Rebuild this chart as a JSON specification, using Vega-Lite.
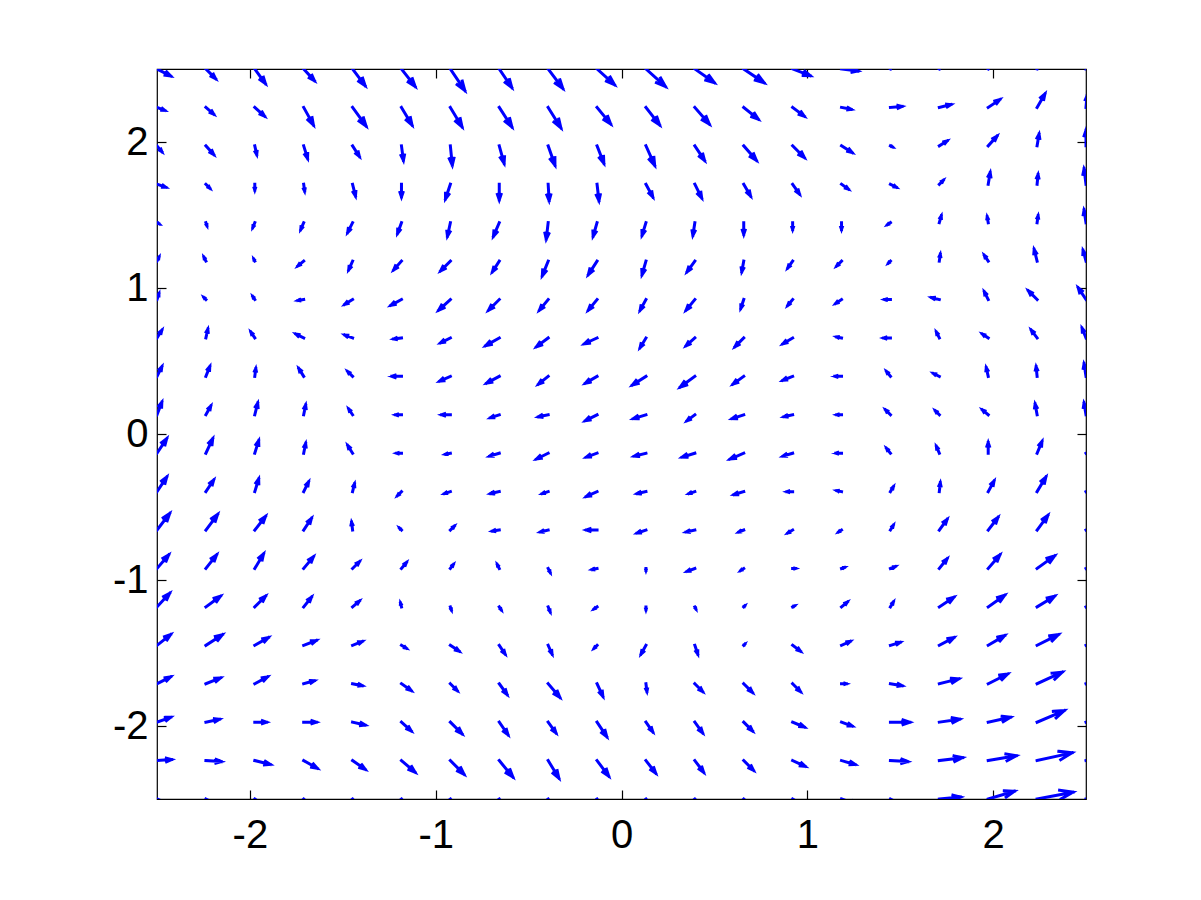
{
"$schema":"https://vega.github.io/schema/vega-lite/v6.json",
"width":929,"height":730,"autosize":"none",
"padding":{"left":157,"top":69,"right":115,"bottom":101},
"background":"white",
"config":{"view":{"stroke":"#000","strokeWidth":1.2},"axis":{"labelFont":"Liberation Sans","labelFontSize":40,"labelColor":"#000","tickColor":"#000","tickSize":-9,"tickWidth":1.2,"domain":false,"grid":false,"title":null}},
"data":{"values":[
{"x":-2.5,"y":2.5,"dir":333,"speed":1.57},{"x":-2.2368,"y":2.5,"dir":315,"speed":1.41},{"x":-1.9737,"y":2.5,"dir":306,"speed":1.86},{"x":-1.7105,"y":2.5,"dir":312.5,"speed":1.63},{"x":-1.4474,"y":2.5,"dir":307,"speed":2.14},{"x":-1.1842,"y":2.5,"dir":308,"speed":2.28},{"x":-0.9211,"y":2.5,"dir":304,"speed":2.66},{"x":-0.6579,"y":2.5,"dir":304,"speed":2.3},{"x":-0.3947,"y":2.5,"dir":307,"speed":2.5},{"x":-0.1316,"y":2.5,"dir":318,"speed":2.41},{"x":0.1316,"y":2.5,"dir":318,"speed":2.69},{"x":0.3947,"y":2.5,"dir":325,"speed":2.44},{"x":0.6579,"y":2.5,"dir":326,"speed":2.52},{"x":0.9211,"y":2.5,"dir":339,"speed":1.93},{"x":1.1842,"y":2.5,"dir":353,"speed":1.71},{"x":1.4474,"y":2.5,"dir":68,"speed":1.08},{"x":1.7105,"y":2.5,"dir":67,"speed":1.3},{"x":1.9737,"y":2.5,"dir":67,"speed":1.52},{"x":2.2368,"y":2.5,"dir":73,"speed":1.68},{"x":2.5,"y":2.5,"dir":90,"speed":1.4},
{"x":-2.5,"y":2.2368,"dir":339,"speed":0.85},{"x":-2.2368,"y":2.2368,"dir":319,"speed":1.06},{"x":-1.9737,"y":2.2368,"dir":318,"speed":1.35},{"x":-1.7105,"y":2.2368,"dir":299,"speed":2.06},{"x":-1.4474,"y":2.2368,"dir":306,"speed":2.36},{"x":-1.1842,"y":2.2368,"dir":301,"speed":2.11},{"x":-0.9211,"y":2.2368,"dir":301,"speed":2.33},{"x":-0.6579,"y":2.2368,"dir":303,"speed":2.39},{"x":-0.3947,"y":2.2368,"dir":302,"speed":2.47},{"x":-0.1316,"y":2.2368,"dir":309.5,"speed":2.2},{"x":0.1316,"y":2.2368,"dir":308,"speed":2.28},{"x":0.3947,"y":2.2368,"dir":311,"speed":2.27},{"x":0.6579,"y":2.2368,"dir":321,"speed":1.92},{"x":0.9211,"y":2.2368,"dir":323,"speed":1.5},{"x":1.1842,"y":2.2368,"dir":349,"speed":1.02},{"x":1.4474,"y":2.2368,"dir":5,"speed":1.2},{"x":1.7105,"y":2.2368,"dir":14,"speed":1.24},{"x":1.9737,"y":2.2368,"dir":34,"speed":1.44},{"x":2.2368,"y":2.2368,"dir":60,"speed":1.61},{"x":2.5,"y":2.2368,"dir":85,"speed":1.2},
{"x":-2.5,"y":1.9737,"dir":310,"speed":0.78},{"x":-2.2368,"y":1.9737,"dir":312,"speed":1.2},{"x":-1.9737,"y":1.9737,"dir":282.5,"speed":0.92},{"x":-1.7105,"y":1.9737,"dir":287,"speed":1.36},{"x":-1.4474,"y":1.9737,"dir":302.5,"speed":1.3},{"x":-1.1842,"y":1.9737,"dir":277.6,"speed":1.51},{"x":-0.9211,"y":1.9737,"dir":275.7,"speed":2.01},{"x":-0.6579,"y":1.9737,"dir":285.5,"speed":1.87},{"x":-0.3947,"y":1.9737,"dir":289.3,"speed":2.12},{"x":-0.1316,"y":1.9737,"dir":291.3,"speed":1.93},{"x":0.1316,"y":1.9737,"dir":294.2,"speed":2.19},{"x":0.3947,"y":1.9737,"dir":303.7,"speed":1.8},{"x":0.6579,"y":1.9737,"dir":311,"speed":1.98},{"x":0.9211,"y":1.9737,"dir":315,"speed":1.7},{"x":1.1842,"y":1.9737,"dir":327.5,"speed":1.3},{"x":1.4474,"y":1.9737,"dir":333.4,"speed":0.22},{"x":1.7105,"y":1.9737,"dir":32,"speed":0.94},{"x":1.9737,"y":1.9737,"dir":48,"speed":1.35},{"x":2.2368,"y":1.9737,"dir":80.5,"speed":1.22},{"x":2.5,"y":1.9737,"dir":90,"speed":1.6},
{"x":-2.5,"y":1.7105,"dir":341.6,"speed":0.95},{"x":-2.2368,"y":1.7105,"dir":315,"speed":0.57},{"x":-1.9737,"y":1.7105,"dir":270,"speed":0.6},{"x":-1.7105,"y":1.7105,"dir":278,"speed":0.71},{"x":-1.4474,"y":1.7105,"dir":284,"speed":1.24},{"x":-1.1842,"y":1.7105,"dir":270,"speed":1.3},{"x":-0.9211,"y":1.7105,"dir":251.6,"speed":1.58},{"x":-0.6579,"y":1.7105,"dir":270,"speed":1.6},{"x":-0.3947,"y":1.7105,"dir":273.4,"speed":1.7},{"x":-0.1316,"y":1.7105,"dir":276.7,"speed":1.71},{"x":0.1316,"y":1.7105,"dir":298.3,"speed":1.48},{"x":0.3947,"y":1.7105,"dir":296.6,"speed":1.57},{"x":0.6579,"y":1.7105,"dir":300.3,"speed":1.39},{"x":0.9211,"y":1.7105,"dir":305,"speed":1.22},{"x":1.1842,"y":1.7105,"dir":324.5,"speed":0.86},{"x":1.4474,"y":1.7105,"dir":333.4,"speed":0.67},{"x":1.7105,"y":1.7105,"dir":45,"speed":0.57},{"x":1.9737,"y":1.7105,"dir":80.5,"speed":1.22},{"x":2.2368,"y":1.7105,"dir":84.3,"speed":1.0},{"x":2.5,"y":1.7105,"dir":97.1,"speed":1.61},
{"x":-2.5,"y":1.4474,"dir":333.4,"speed":0.22},{"x":-2.2368,"y":1.4474,"dir":288.4,"speed":0.32},{"x":-1.9737,"y":1.4474,"dir":248.2,"speed":0.54},{"x":-1.7105,"y":1.4474,"dir":246.8,"speed":0.76},{"x":-1.4474,"y":1.4474,"dir":243.4,"speed":1.12},{"x":-1.1842,"y":1.4474,"dir":250,"speed":1.17},{"x":-0.9211,"y":1.4474,"dir":257.9,"speed":1.43},{"x":-0.6579,"y":1.4474,"dir":246.8,"speed":1.52},{"x":-0.3947,"y":1.4474,"dir":263.3,"speed":1.71},{"x":-0.1316,"y":1.4474,"dir":254,"speed":1.46},{"x":0.1316,"y":1.4474,"dir":252.9,"speed":1.36},{"x":0.3947,"y":1.4474,"dir":261.3,"speed":1.32},{"x":0.6579,"y":1.4474,"dir":270,"speed":1.2},{"x":0.9211,"y":1.4474,"dir":270,"speed":0.7},{"x":1.1842,"y":1.4474,"dir":270,"speed":0.7},{"x":1.4474,"y":1.4474,"dir":213.7,"speed":0.36},{"x":1.7105,"y":1.4474,"dir":74,"speed":0.73},{"x":1.9737,"y":1.4474,"dir":99.5,"speed":0.61},{"x":2.2368,"y":1.4474,"dir":81.9,"speed":0.71},{"x":2.5,"y":1.4474,"dir":98.7,"speed":1.32},
{"x":-2.5,"y":1.1842,"dir":63.4,"speed":0.45},{"x":-2.2368,"y":1.1842,"dir":116.6,"speed":0.45},{"x":-1.9737,"y":1.1842,"dir":116.6,"speed":0.22},{"x":-1.7105,"y":1.1842,"dir":219.8,"speed":0.78},{"x":-1.4474,"y":1.1842,"dir":246,"speed":0.98},{"x":-1.1842,"y":1.1842,"dir":228.4,"speed":1.2},{"x":-0.9211,"y":1.1842,"dir":225,"speed":1.41},{"x":-0.6579,"y":1.1842,"dir":237.5,"speed":1.3},{"x":-0.3947,"y":1.1842,"dir":248.2,"speed":1.62},{"x":-0.1316,"y":1.1842,"dir":237.3,"speed":1.66},{"x":0.1316,"y":1.1842,"dir":254,"speed":1.46},{"x":0.3947,"y":1.1842,"dir":234,"speed":1.36},{"x":0.6579,"y":1.1842,"dir":259.7,"speed":1.12},{"x":0.9211,"y":1.1842,"dir":234.5,"speed":0.86},{"x":1.1842,"y":1.1842,"dir":225,"speed":0.71},{"x":1.4474,"y":1.1842,"dir":225,"speed":0.28},{"x":1.7105,"y":1.1842,"dir":81.9,"speed":0.71},{"x":1.9737,"y":1.1842,"dir":123.7,"speed":0.72},{"x":2.2368,"y":1.1842,"dir":104,"speed":1.24},{"x":2.5,"y":1.1842,"dir":105.3,"speed":1.14},
{"x":-2.5,"y":0.9211,"dir":71.6,"speed":0.63},{"x":-2.2368,"y":0.9211,"dir":135,"speed":0.28},{"x":-1.9737,"y":0.9211,"dir":123.7,"speed":0.36},{"x":-1.7105,"y":0.9211,"dir":189.5,"speed":0.61},{"x":-1.4474,"y":0.9211,"dir":212,"speed":0.94},{"x":-1.1842,"y":0.9211,"dir":208.6,"speed":1.25},{"x":-0.9211,"y":0.9211,"dir":222.5,"speed":1.63},{"x":-0.6579,"y":0.9211,"dir":225,"speed":1.56},{"x":-0.3947,"y":0.9211,"dir":230.7,"speed":1.42},{"x":-0.1316,"y":0.9211,"dir":230.7,"speed":1.42},{"x":0.1316,"y":0.9211,"dir":241.4,"speed":1.25},{"x":0.3947,"y":0.9211,"dir":230.7,"speed":1.42},{"x":0.6579,"y":0.9211,"dir":251.6,"speed":0.95},{"x":0.9211,"y":0.9211,"dir":230.2,"speed":0.78},{"x":1.1842,"y":0.9211,"dir":213.7,"speed":0.72},{"x":1.4474,"y":0.9211,"dir":180,"speed":0.6},{"x":1.7105,"y":0.9211,"dir":166,"speed":0.82},{"x":1.9737,"y":0.9211,"dir":116.6,"speed":0.89},{"x":2.2368,"y":0.9211,"dir":135,"speed":1.27},{"x":2.5,"y":0.9211,"dir":123.7,"speed":1.44},
{"x":-2.5,"y":0.6579,"dir":58,"speed":0.94},{"x":-2.2368,"y":0.6579,"dir":77.5,"speed":0.92},{"x":-1.9737,"y":0.6579,"dir":123.7,"speed":0.72},{"x":-1.7105,"y":0.6579,"dir":153.4,"speed":0.89},{"x":-1.4474,"y":0.6579,"dir":159.4,"speed":0.85},{"x":-1.1842,"y":0.6579,"dir":187,"speed":0.81},{"x":-0.9211,"y":0.6579,"dir":206.6,"speed":1.12},{"x":-0.6579,"y":0.6579,"dir":209.7,"speed":1.61},{"x":-0.3947,"y":0.6579,"dir":216.9,"speed":1.5},{"x":-0.1316,"y":0.6579,"dir":204.8,"speed":1.43},{"x":0.1316,"y":0.6579,"dir":239,"speed":1.17},{"x":0.3947,"y":0.6579,"dir":221.6,"speed":1.2},{"x":0.6579,"y":0.6579,"dir":225,"speed":1.27},{"x":0.9211,"y":0.6579,"dir":211,"speed":1.17},{"x":1.1842,"y":0.6579,"dir":168.7,"speed":0.51},{"x":1.4474,"y":0.6579,"dir":180,"speed":0.7},{"x":1.7105,"y":0.6579,"dir":116.6,"speed":0.67},{"x":1.9737,"y":0.6579,"dir":146.3,"speed":0.72},{"x":2.2368,"y":0.6579,"dir":126.9,"speed":1.0},{"x":2.5,"y":0.6579,"dir":111.8,"speed":1.08},
{"x":-2.5,"y":0.3947,"dir":63.4,"speed":1.12},{"x":-2.2368,"y":0.3947,"dir":68.2,"speed":1.08},{"x":-1.9737,"y":0.3947,"dir":82.9,"speed":0.81},{"x":-1.7105,"y":0.3947,"dir":122,"speed":0.94},{"x":-1.4474,"y":0.3947,"dir":135,"speed":0.71},{"x":-1.1842,"y":0.3947,"dir":180,"speed":1.0},{"x":-0.9211,"y":0.3947,"dir":204.4,"speed":1.21},{"x":-0.6579,"y":0.3947,"dir":208.3,"speed":1.48},{"x":-0.3947,"y":0.3947,"dir":218.7,"speed":1.28},{"x":-0.1316,"y":0.3947,"dir":210.3,"speed":1.39},{"x":0.1316,"y":0.3947,"dir":212.7,"speed":1.66},{"x":0.3947,"y":0.3947,"dir":216.3,"speed":1.86},{"x":0.6579,"y":0.3947,"dir":216,"speed":1.36},{"x":0.9211,"y":0.3947,"dir":201.8,"speed":1.08},{"x":1.1842,"y":0.3947,"dir":180,"speed":0.7},{"x":1.4474,"y":0.3947,"dir":128.7,"speed":0.64},{"x":1.7105,"y":0.3947,"dir":153.4,"speed":0.67},{"x":1.9737,"y":0.3947,"dir":102.5,"speed":0.92},{"x":2.2368,"y":0.3947,"dir":95.7,"speed":1.0},{"x":2.5,"y":0.3947,"dir":98.7,"speed":1.32},
{"x":-2.5,"y":0.1316,"dir":69,"speed":1.39},{"x":-2.2368,"y":0.1316,"dir":61,"speed":1.03},{"x":-1.9737,"y":0.1316,"dir":76,"speed":1.24},{"x":-1.7105,"y":0.1316,"dir":78.7,"speed":1.02},{"x":-1.4474,"y":0.1316,"dir":123.7,"speed":0.72},{"x":-1.1842,"y":0.1316,"dir":180,"speed":0.6},{"x":-0.9211,"y":0.1316,"dir":180,"speed":0.9},{"x":-0.6579,"y":0.1316,"dir":198.4,"speed":0.95},{"x":-0.3947,"y":0.1316,"dir":191.3,"speed":1.02},{"x":-0.1316,"y":0.1316,"dir":206.6,"speed":1.34},{"x":0.1316,"y":0.1316,"dir":197.1,"speed":1.36},{"x":0.3947,"y":0.1316,"dir":216.9,"speed":1.0},{"x":0.6579,"y":0.1316,"dir":198.4,"speed":1.26},{"x":0.9211,"y":0.1316,"dir":192.5,"speed":0.92},{"x":1.1842,"y":0.1316,"dir":180,"speed":0.5},{"x":1.4474,"y":0.1316,"dir":135,"speed":0.71},{"x":1.7105,"y":0.1316,"dir":135,"speed":0.57},{"x":1.9737,"y":0.1316,"dir":140.2,"speed":0.78},{"x":2.2368,"y":0.1316,"dir":100.3,"speed":1.12},{"x":2.5,"y":0.1316,"dir":99.5,"speed":1.22},
{"x":-2.5,"y":-0.1316,"dir":56.3,"speed":1.8},{"x":-2.2368,"y":-0.1316,"dir":65,"speed":1.66},{"x":-1.9737,"y":-0.1316,"dir":72.9,"speed":1.36},{"x":-1.7105,"y":-0.1316,"dir":78.7,"speed":1.02},{"x":-1.4474,"y":-0.1316,"dir":122,"speed":0.94},{"x":-1.1842,"y":-0.1316,"dir":180,"speed":0.5},{"x":-0.9211,"y":-0.1316,"dir":191.3,"speed":0.51},{"x":-0.6579,"y":-0.1316,"dir":196.7,"speed":1.04},{"x":-0.3947,"y":-0.1316,"dir":206.6,"speed":1.34},{"x":-0.1316,"y":-0.1316,"dir":200,"speed":1.17},{"x":0.1316,"y":-0.1316,"dir":194,"speed":1.24},{"x":0.3947,"y":-0.1316,"dir":197.1,"speed":1.36},{"x":0.6579,"y":-0.1316,"dir":203.2,"speed":1.52},{"x":0.9211,"y":-0.1316,"dir":196.7,"speed":1.04},{"x":1.1842,"y":-0.1316,"dir":180,"speed":0.6},{"x":1.4474,"y":-0.1316,"dir":128.7,"speed":0.64},{"x":1.7105,"y":-0.1316,"dir":113.2,"speed":0.76},{"x":1.9737,"y":-0.1316,"dir":90,"speed":1.1},{"x":2.2368,"y":-0.1316,"dir":67.4,"speed":1.3},{"x":2.5,"y":-0.1316,"dir":31,"speed":1.17},
{"x":-2.5,"y":-0.3947,"dir":56.3,"speed":1.8},{"x":-2.2368,"y":-0.3947,"dir":56.3,"speed":1.44},{"x":-1.9737,"y":-0.3947,"dir":72.9,"speed":1.36},{"x":-1.7105,"y":-0.3947,"dir":63.4,"speed":1.12},{"x":-1.4474,"y":-0.3947,"dir":76,"speed":0.82},{"x":-1.1842,"y":-0.3947,"dir":225,"speed":0.57},{"x":-0.9211,"y":-0.3947,"dir":198.4,"speed":0.63},{"x":-0.6579,"y":-0.3947,"dir":192.5,"speed":0.92},{"x":-0.3947,"y":-0.3947,"dir":198.4,"speed":0.63},{"x":-0.1316,"y":-0.3947,"dir":204.4,"speed":1.21},{"x":0.1316,"y":-0.3947,"dir":192.5,"speed":0.92},{"x":0.3947,"y":-0.3947,"dir":198.4,"speed":0.63},{"x":0.6579,"y":-0.3947,"dir":196.7,"speed":1.04},{"x":0.9211,"y":-0.3947,"dir":180,"speed":0.6},{"x":1.1842,"y":-0.3947,"dir":168.7,"speed":0.51},{"x":1.4474,"y":-0.3947,"dir":59,"speed":0.58},{"x":1.7105,"y":-0.3947,"dir":83.7,"speed":0.91},{"x":1.9737,"y":-0.3947,"dir":61.4,"speed":1.25},{"x":2.2368,"y":-0.3947,"dir":59,"speed":1.75},{"x":2.5,"y":-0.3947,"dir":26.6,"speed":1.34},
{"x":-2.5,"y":-0.6579,"dir":52.6,"speed":2.14},{"x":-2.2368,"y":-0.6579,"dir":53.1,"speed":2.0},{"x":-1.9737,"y":-0.6579,"dir":51.8,"speed":1.78},{"x":-1.7105,"y":-0.6579,"dir":56.3,"speed":1.44},{"x":-1.4474,"y":-0.6579,"dir":97.1,"speed":0.81},{"x":-1.1842,"y":-0.6579,"dir":135,"speed":0.28},{"x":-0.9211,"y":-0.6579,"dir":45,"speed":0.57},{"x":-0.6579,"y":-0.6579,"dir":188.1,"speed":0.71},{"x":-0.3947,"y":-0.6579,"dir":194,"speed":0.82},{"x":-0.1316,"y":-0.6579,"dir":180,"speed":1.1},{"x":0.1316,"y":-0.6579,"dir":198.4,"speed":0.95},{"x":0.3947,"y":-0.6579,"dir":192.5,"speed":0.92},{"x":0.6579,"y":-0.6579,"dir":201.8,"speed":0.54},{"x":0.9211,"y":-0.6579,"dir":211,"speed":0.58},{"x":1.1842,"y":-0.6579,"dir":213.7,"speed":0.36},{"x":1.4474,"y":-0.6579,"dir":59,"speed":0.58},{"x":1.7105,"y":-0.6579,"dir":54,"speed":1.36},{"x":1.9737,"y":-0.6579,"dir":52.4,"speed":1.64},{"x":2.2368,"y":-0.6579,"dir":53.7,"speed":1.86},{"x":2.5,"y":-0.6579,"dir":29.7,"speed":1.61},
{"x":-2.5,"y":-0.9211,"dir":49.4,"speed":1.84},{"x":-2.2368,"y":-0.9211,"dir":51.8,"speed":1.78},{"x":-1.9737,"y":-0.9211,"dir":59,"speed":1.75},{"x":-1.7105,"y":-0.9211,"dir":50.2,"speed":1.56},{"x":-1.4474,"y":-0.9211,"dir":45,"speed":0.99},{"x":-1.1842,"y":-0.9211,"dir":50.2,"speed":0.78},{"x":-0.9211,"y":-0.9211,"dir":53.1,"speed":0.5},{"x":-0.6579,"y":-0.9211,"dir":116.6,"speed":0.45},{"x":-0.3947,"y":-0.9211,"dir":296.6,"speed":0.45},{"x":-0.1316,"y":-0.9211,"dir":191.3,"speed":0.51},{"x":0.1316,"y":-0.9211,"dir":270,"speed":0.2},{"x":0.3947,"y":-0.9211,"dir":200.6,"speed":0.85},{"x":0.6579,"y":-0.9211,"dir":213.7,"speed":0.36},{"x":0.9211,"y":-0.9211,"dir":0,"speed":0.3},{"x":1.1842,"y":-0.9211,"dir":18.4,"speed":0.32},{"x":1.4474,"y":-0.9211,"dir":21.8,"speed":0.54},{"x":1.7105,"y":-0.9211,"dir":51.3,"speed":1.28},{"x":1.9737,"y":-0.9211,"dir":49.4,"speed":1.84},{"x":2.2368,"y":-0.9211,"dir":35.8,"speed":2.22},{"x":2.5,"y":-0.9211,"dir":26.6,"speed":2.24},
{"x":-2.5,"y":-1.1842,"dir":47.1,"speed":1.91},{"x":-2.2368,"y":-1.1842,"dir":36.3,"speed":1.86},{"x":-1.9737,"y":-1.1842,"dir":45,"speed":1.56},{"x":-1.7105,"y":-1.1842,"dir":51.3,"speed":1.28},{"x":-1.4474,"y":-1.1842,"dir":40.6,"speed":0.92},{"x":-1.1842,"y":-1.1842,"dir":104,"speed":0.41},{"x":-0.9211,"y":-1.1842,"dir":288.4,"speed":0.32},{"x":-0.6579,"y":-1.1842,"dir":303.7,"speed":0.36},{"x":-0.3947,"y":-1.1842,"dir":291.8,"speed":0.54},{"x":-0.1316,"y":-1.1842,"dir":213.7,"speed":0.36},{"x":0.1316,"y":-1.1842,"dir":270,"speed":0.3},{"x":0.3947,"y":-1.1842,"dir":296.6,"speed":0.22},{"x":0.6579,"y":-1.1842,"dir":45,"speed":0.14},{"x":0.9211,"y":-1.1842,"dir":26.6,"speed":0.22},{"x":1.1842,"y":-1.1842,"dir":39.8,"speed":0.78},{"x":1.4474,"y":-1.1842,"dir":59,"speed":0.58},{"x":1.7105,"y":-1.1842,"dir":33.7,"speed":1.8},{"x":1.9737,"y":-1.1842,"dir":35.2,"speed":2.08},{"x":2.2368,"y":-1.1842,"dir":31.4,"speed":2.11},{"x":2.5,"y":-1.1842,"dir":26.6,"speed":2.24},
{"x":-2.5,"y":-1.4474,"dir":38.2,"speed":1.78},{"x":-2.2368,"y":-1.4474,"dir":32.9,"speed":2.02},{"x":-1.9737,"y":-1.4474,"dir":29.7,"speed":1.61},{"x":-1.7105,"y":-1.4474,"dir":21,"speed":1.39},{"x":-1.4474,"y":-1.4474,"dir":21.8,"speed":1.08},{"x":-1.1842,"y":-1.4474,"dir":329,"speed":0.58},{"x":-0.9211,"y":-1.4474,"dir":326.3,"speed":1.08},{"x":-0.6579,"y":-1.4474,"dir":303.7,"speed":1.08},{"x":-0.3947,"y":-1.4474,"dir":294,"speed":0.98},{"x":-0.1316,"y":-1.4474,"dir":225,"speed":0.42},{"x":0.1316,"y":-1.4474,"dir":240.9,"speed":1.03},{"x":0.3947,"y":-1.4474,"dir":288.4,"speed":0.95},{"x":0.6579,"y":-1.4474,"dir":45,"speed":0.14},{"x":0.9211,"y":-1.4474,"dir":323.1,"speed":1.0},{"x":1.1842,"y":-1.4474,"dir":24,"speed":0.98},{"x":1.4474,"y":-1.4474,"dir":16.7,"speed":1.04},{"x":1.7105,"y":-1.4474,"dir":28.1,"speed":1.7},{"x":1.9737,"y":-1.4474,"dir":30.5,"speed":1.97},{"x":2.2368,"y":-1.4474,"dir":26.6,"speed":2.46},{"x":2.5,"y":-1.4474,"dir":22.6,"speed":2.6},
{"x":-2.5,"y":-1.7105,"dir":26.6,"speed":1.57},{"x":-2.2368,"y":-1.7105,"dir":21.8,"speed":1.62},{"x":-1.9737,"y":-1.7105,"dir":28.3,"speed":1.48},{"x":-1.7105,"y":-1.7105,"dir":15.3,"speed":1.14},{"x":-1.4474,"y":-1.7105,"dir":348.7,"speed":1.02},{"x":-1.1842,"y":-1.7105,"dir":325,"speed":1.22},{"x":-0.9211,"y":-1.7105,"dir":315,"speed":0.99},{"x":-0.6579,"y":-1.7105,"dir":306,"speed":1.36},{"x":-0.3947,"y":-1.7105,"dir":310.6,"speed":1.84},{"x":-0.1316,"y":-1.7105,"dir":294.8,"speed":1.43},{"x":0.1316,"y":-1.7105,"dir":277.1,"speed":0.81},{"x":0.3947,"y":-1.7105,"dir":315,"speed":1.13},{"x":0.6579,"y":-1.7105,"dir":315,"speed":1.27},{"x":0.9211,"y":-1.7105,"dir":315,"speed":1.13},{"x":1.1842,"y":-1.7105,"dir":0,"speed":0.5},{"x":1.4474,"y":-1.7105,"dir":350.5,"speed":1.22},{"x":1.7105,"y":-1.7105,"dir":14,"speed":2.06},{"x":1.9737,"y":-1.7105,"dir":26.6,"speed":2.24},{"x":2.2368,"y":-1.7105,"dir":24.8,"speed":2.86},{"x":2.5,"y":-1.7105,"dir":19.7,"speed":2.97},
{"x":-2.5,"y":-1.9737,"dir":19.7,"speed":1.49},{"x":-2.2368,"y":-1.9737,"dir":12.1,"speed":1.43},{"x":-1.9737,"y":-1.9737,"dir":0,"speed":1.2},{"x":-1.7105,"y":-1.9737,"dir":0,"speed":1.3},{"x":-1.4474,"y":-1.9737,"dir":347,"speed":1.33},{"x":-1.1842,"y":-1.9737,"dir":318,"speed":1.35},{"x":-0.9211,"y":-1.9737,"dir":315,"speed":1.7},{"x":-0.6579,"y":-1.9737,"dir":304.7,"speed":1.58},{"x":-0.3947,"y":-1.9737,"dir":306,"speed":1.36},{"x":-0.1316,"y":-1.9737,"dir":303.7,"speed":1.8},{"x":0.1316,"y":-1.9737,"dir":305,"speed":1.22},{"x":0.3947,"y":-1.9737,"dir":306,"speed":1.36},{"x":0.6579,"y":-1.9737,"dir":315,"speed":1.27},{"x":0.9211,"y":-1.9737,"dir":337.4,"speed":1.3},{"x":1.1842,"y":-1.9737,"dir":340,"speed":1.17},{"x":1.4474,"y":-1.9737,"dir":0,"speed":2.0},{"x":1.7105,"y":-1.9737,"dir":8.1,"speed":2.12},{"x":1.9737,"y":-1.9737,"dir":12.3,"speed":2.35},{"x":2.2368,"y":-1.9737,"dir":23.2,"speed":3.05},{"x":2.5,"y":-1.9737,"dir":18.4,"speed":3.16},
{"x":-2.5,"y":-2.2368,"dir":3.8,"speed":1.5},{"x":-2.2368,"y":-2.2368,"dir":356.4,"speed":1.6},{"x":-1.9737,"y":-2.2368,"dir":346,"speed":1.65},{"x":-1.7105,"y":-2.2368,"dir":330.3,"speed":1.61},{"x":-1.4474,"y":-2.2368,"dir":325.3,"speed":1.58},{"x":-1.1842,"y":-2.2368,"dir":319.4,"speed":1.84},{"x":-0.9211,"y":-2.2368,"dir":315,"speed":1.98},{"x":-0.6579,"y":-2.2368,"dir":309.5,"speed":2.2},{"x":-0.3947,"y":-2.2368,"dir":301.4,"speed":2.11},{"x":-0.1316,"y":-2.2368,"dir":306.9,"speed":2.0},{"x":0.1316,"y":-2.2368,"dir":307.6,"speed":1.64},{"x":0.3947,"y":-2.2368,"dir":306.9,"speed":1.5},{"x":0.6579,"y":-2.2368,"dir":315,"speed":1.41},{"x":0.9211,"y":-2.2368,"dir":335.2,"speed":1.43},{"x":1.1842,"y":-2.2368,"dir":344,"speed":1.46},{"x":1.4474,"y":-2.2368,"dir":356.8,"speed":1.8},{"x":1.7105,"y":-2.2368,"dir":7.1,"speed":2.42},{"x":1.9737,"y":-2.2368,"dir":9.8,"speed":2.94},{"x":2.2368,"y":-2.2368,"dir":12.5,"speed":3.69},{"x":2.5,"y":-2.2368,"dir":11.9,"speed":3.88},
{"x":-2.5,"y":-2.5,"dir":337,"speed":1.5},{"x":-2.2368,"y":-2.5,"dir":332,"speed":1.7},{"x":-1.9737,"y":-2.5,"dir":324,"speed":1.7},{"x":-1.7105,"y":-2.5,"dir":315,"speed":1.8},{"x":-1.4474,"y":-2.5,"dir":311,"speed":2.0},{"x":-1.1842,"y":-2.5,"dir":309,"speed":2.1},{"x":-0.9211,"y":-2.5,"dir":306,"speed":2.2},{"x":-0.6579,"y":-2.5,"dir":301,"speed":2.3},{"x":-0.3947,"y":-2.5,"dir":301,"speed":2.3},{"x":-0.1316,"y":-2.5,"dir":304,"speed":2.2},{"x":0.1316,"y":-2.5,"dir":307,"speed":2.0},{"x":0.3947,"y":-2.5,"dir":311,"speed":1.8},{"x":0.6579,"y":-2.5,"dir":317,"speed":1.8},{"x":0.9211,"y":-2.5,"dir":329,"speed":1.75},{"x":1.1842,"y":-2.5,"dir":340.6,"speed":1.8},{"x":1.4474,"y":-2.5,"dir":332,"speed":1.7},{"x":1.7105,"y":-2.5,"dir":5.2,"speed":2.21},{"x":1.9737,"y":-2.5,"dir":16.5,"speed":2.82},{"x":2.2368,"y":-2.5,"dir":10.7,"speed":3.77},{"x":2.5,"y":-2.5,"dir":8.5,"speed":4.04}
]},
"layer":[
{"mark":{"type":"point","shape":"M0,0L2,0M1.3,-0.24L2,0L1.3,0.24","filled":false,"stroke":"#0000ff","strokeWidth":3,"opacity":1,"clip":true,"strokeCap":"square","strokeJoin":"miter"},
 "encoding":{
  "x":{"field":"x","type":"quantitative","scale":{"domain":[-2.5,2.5],"nice":false,"zero":false},"axis":{"orient":"bottom","values":[-2,-1,0,1,2],"labelExpr":"'' + datum.value","labelPadding":25}},
  "y":{"field":"y","type":"quantitative","scale":{"domain":[-2.5,2.5],"nice":false,"zero":false},"axis":{"orient":"left","values":[-2,-1,0,1,2],"labelExpr":"'' + datum.value","labelPadding":18}},
  "angle":{"field":"dir","type":"quantitative","scale":{"domain":[0,360],"range":[360,0]},"legend":null},
  "size":{"field":"speed","type":"quantitative","scale":{"type":"pow","exponent":2,"domain":[0,4],"range":[0,1500]},"legend":null}
 }},
{"mark":{"type":"point","opacity":0},
 "encoding":{
  "x":{"field":"x","type":"quantitative","scale":{"domain":[-2.5,2.5],"nice":false,"zero":false},"axis":{"orient":"top","values":[-2,-1,0,1,2],"labels":false}},
  "y":{"field":"y","type":"quantitative","scale":{"domain":[-2.5,2.5],"nice":false,"zero":false},"axis":{"orient":"right","values":[-2,-1,0,1,2],"labels":false}}
 }}
],
"resolve":{"axis":{"x":"independent","y":"independent"}}
}
